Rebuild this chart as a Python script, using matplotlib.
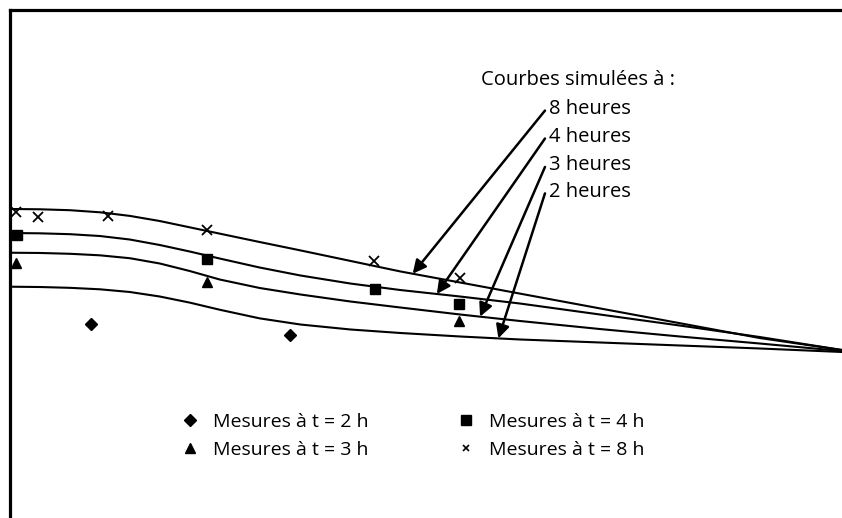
import matplotlib
matplotlib.use('Agg')
import matplotlib.pyplot as plt
import numpy as np

plt.rcParams['font.family'] = ['Open Sans', 'DejaVu Sans']

# abscissa (relative distance, 0-100) shared by the simulated curves
x_sim = [0, 3.6, 7.2, 10.8, 14.4, 18.0, 21.6, 25.2, 30.0, 34.9, 40.9, 46.9,
         54.1, 61.3, 70.9, 80.5, 90.1, 100]

# simulated curves (relative value, 0-100)
sim_8h = [60.83, 60.77, 60.59, 60.18, 59.47, 58.46, 57.22, 55.98, 54.33, 52.68,
          50.61, 48.54, 46.36, 44.17, 41.26, 38.35, 35.43, 33.07]
sim_4h = [56.10, 56.04, 55.87, 55.51, 54.82, 53.74, 52.46, 51.08, 49.31, 47.74,
          46.16, 44.88, 43.60, 42.22, 40.06, 37.89, 35.63, 33.07]
sim_3h = [52.22, 52.17, 52.01, 51.71, 51.14, 50.10, 48.62, 46.95, 45.28, 44.00,
          42.62, 41.44, 40.06, 38.78, 37.20, 35.73, 34.35, 32.87]
sim_2h = [45.53, 45.47, 45.31, 45.02, 44.49, 43.60, 42.40, 41.00, 39.30, 38.09,
          37.11, 36.42, 35.73, 35.14, 34.55, 33.96, 33.37, 32.68]

# measurements
mes_2h_x = [9.7, 33.7]
mes_2h_y = [38.2, 36.0]
mes_3h_x = [0.7, 23.7, 54.0]
mes_3h_y = [50.2, 46.5, 38.8]
mes_4h_x = [0.8, 23.7, 43.9, 54.0]
mes_4h_y = [55.7, 51.0, 45.1, 42.1]
mes_8h_x = [0.7, 3.4, 11.8, 23.7, 43.8, 54.1]
mes_8h_y = [60.2, 59.2, 59.4, 56.7, 50.6, 47.2]

curve_labels = ['8 heures', '4 heures', '3 heures', '2 heures']
arrow_tip_x = [48.4, 51.3, 56.5, 58.7]

fig = plt.figure(figsize=(8.42, 5.18), dpi=100)
ax = fig.add_axes([10 / 842, 0, 832 / 842, 508 / 518])

curves = [sim_8h, sim_4h, sim_3h, sim_2h]
for curve in curves:
    ax.plot(x_sim, curve, color='black', lw=1.5, solid_joinstyle='round')

ax.plot(mes_2h_x, mes_2h_y, 'D', color='black', ms=6.5, ls='none', label='Mesures à t = 2 h', clip_on=False)
ax.plot(mes_3h_x, mes_3h_y, '^', color='black', ms=7, ls='none', label='Mesures à t = 3 h', clip_on=False)
ax.plot(mes_4h_x, mes_4h_y, 's', color='black', ms=6.5, ls='none', label='Mesures à t = 4 h', clip_on=False)
ax.plot(mes_8h_x, mes_8h_y, 'x', color='black', ms=6.5, mew=1.3, ls='none', label='Mesures à t = 8 h', clip_on=False)

# labels + arrows pointing at each curve
ax.text(56.6, 86.2, 'Courbes simulées à :', fontsize=14.5, ha='left', va='center')
label_y = [80.5, 75.0, 69.4, 64.2]
for lab, ly, tx, curve in zip(curve_labels, label_y, arrow_tip_x, curves):
    ax.text(64.8, ly, lab, fontsize=14.5, ha='left', va='center')
    ty = np.interp(tx, x_sim, curve)
    ax.annotate('', xy=(tx, ty), xytext=(64.3, ly - 0.3),
                arrowprops=dict(arrowstyle='-|>', lw=1.8, color='black',
                                mutation_scale=20, shrinkA=0, shrinkB=0))

leg = ax.legend(ncol=2, frameon=False, fontsize=14, loc='upper left',
                bbox_to_anchor=(180 / 842, 1 - 413 / 518), bbox_transform=fig.transFigure,
                borderpad=0, handlelength=1.0, handletextpad=0.69,
                columnspacing=4.5, labelspacing=0.5, borderaxespad=0)
# the cross is drawn smaller in the key
leg.legend_handles[3].set_markersize(4.5)
leg.legend_handles[3].set_markeredgewidth(1.2)

ax.set_xlim(0, 100)
ax.set_ylim(0, 100)
ax.set_xticks([])
ax.set_yticks([])
for s in ['right', 'bottom']:
    ax.spines[s].set_visible(False)
for s in ['top', 'left']:
    ax.spines[s].set_linewidth(2.3)

fig.savefig('out.png', dpi=100)
